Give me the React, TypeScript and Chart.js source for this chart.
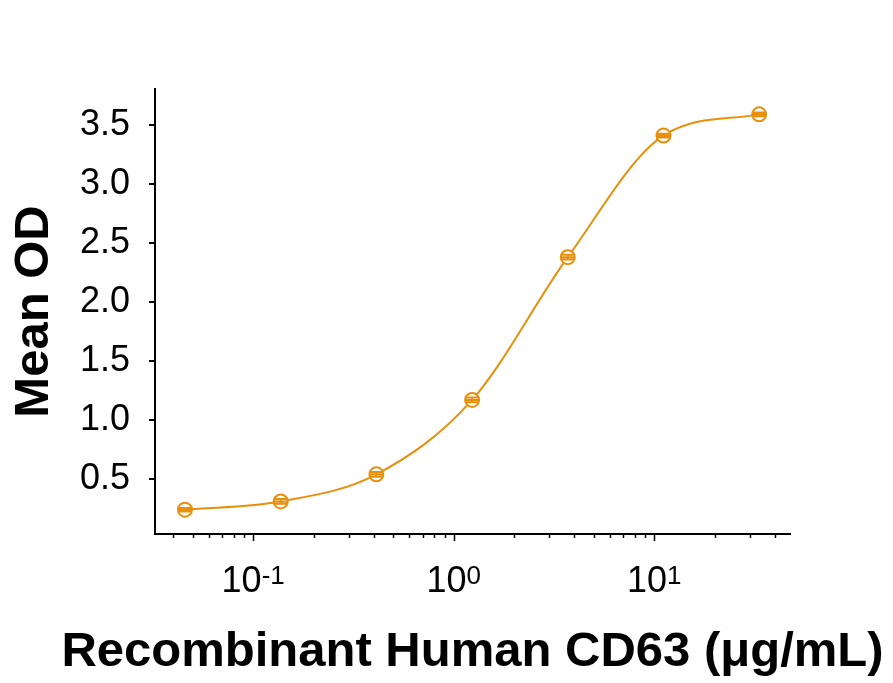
import { useEffect, useRef } from 'react';
import { Chart, registerables } from 'chart.js';

Chart.register(...registerables);

// Three-fold dilution series of recombinant human CD63 (µg/mL)
const concentrations = [0.0457, 0.1372, 0.4115, 1.235, 3.704, 11.11, 33.33];
// Mean optical density at each concentration
const meanOD = [0.24, 0.31, 0.54, 1.17, 2.38, 3.41, 3.59];
// Standard deviation of the replicates
const sdOD = [0.015, 0.02, 0.02, 0.02, 0.02, 0.015, 0.015];

const yTicks = [0.5, 1.0, 1.5, 2.0, 2.5, 3.0, 3.5];
const xDecades = [-1, 0, 1];
const xRange = [0.0324, 47.5];
const yRange = [0.034, 3.805];

const xTitle = 'Recombinant Human CD63 (μg/mL)';
const yTitle = 'Mean OD';

const ORANGE = '#E8900C';
const FONT = '"Liberation Sans", Arial, sans-serif';

// Vertical error bars with caps, drawn on top of the markers
const errorBarPlugin = {
  id: 'errorBars',
  afterDatasetsDraw(chart: any) {
    const { ctx, scales } = chart;
    const x = scales.x;
    const y = scales.y;
    ctx.save();
    ctx.strokeStyle = ORANGE;
    ctx.lineWidth = 2;
    concentrations.forEach((c, i) => {
      const px = x.getPixelForValue(c);
      const top = y.getPixelForValue(meanOD[i] + sdOD[i]);
      const bot = y.getPixelForValue(meanOD[i] - sdOD[i]);
      const mid = y.getPixelForValue(meanOD[i]);
      ctx.beginPath();
      ctx.moveTo(px, top);
      ctx.lineTo(px, bot);
      ctx.moveTo(px - 7, top);
      ctx.lineTo(px + 7, top);
      ctx.moveTo(px - 7, bot);
      ctx.lineTo(px + 7, bot);
      ctx.moveTo(px - 7, mid);
      ctx.lineTo(px + 7, mid);
      ctx.stroke();
    });
    ctx.restore();
  },
};

// Log-axis tick marks (long at decades, short in between), 10^n labels and the x title
const logAxisPlugin = {
  id: 'logAxis',
  afterDraw(chart: any) {
    const { ctx, scales, chartArea } = chart;
    const x = scales.x;
    const base = x.top;
    ctx.save();
    ctx.strokeStyle = '#000';
    ctx.lineWidth = 1.5;
    for (let e = -2; e <= 1; e++) {
      for (let m = 1; m <= 9; m++) {
        const v = m * Math.pow(10, e);
        if (v < xRange[0] || v > xRange[1]) continue;
        const px = Math.round(x.getPixelForValue(v)) + 0.5;
        const len = m === 1 ? 7 : 4;
        ctx.beginPath();
        ctx.moveTo(px, base);
        ctx.lineTo(px, base + len);
        ctx.stroke();
      }
    }
    ctx.fillStyle = '#000';
    ctx.textBaseline = 'alphabetic';
    ctx.textAlign = 'left';
    xDecades.forEach((e) => {
      const px = x.getPixelForValue(Math.pow(10, e));
      const baseText = '10';
      const supText = e < 0 ? '-' + Math.abs(e) : String(e);
      ctx.font = `36px ${FONT}`;
      const w1 = ctx.measureText(baseText).width;
      ctx.font = `26px ${FONT}`;
      const w2 = ctx.measureText(supText).width;
      const start = px - (w1 + w2) / 2;
      ctx.font = `36px ${FONT}`;
      ctx.fillText(baseText, start, base + 58);
      ctx.font = `26px ${FONT}`;
      ctx.fillText(supText, start + w1, base + 50);
    });
    ctx.font = `bold 49px ${FONT}`;
    ctx.textAlign = 'center';
    ctx.fillText(xTitle, (chartArea.left + chartArea.right) / 2, base + 132);
    ctx.restore();
  },
};

export default function App() {
  const canvasRef = useRef<HTMLCanvasElement | null>(null);

  useEffect(() => {
    if (!canvasRef.current) return;
    const chart = new Chart(canvasRef.current, {
      type: 'line',
      data: {
        datasets: [
          {
            data: concentrations.map((c, i) => ({ x: c, y: meanOD[i] })),
            borderColor: ORANGE,
            borderWidth: 2,
            cubicInterpolationMode: 'monotone',
            pointStyle: 'circle',
            pointRadius: 7,
            pointBorderWidth: 2,
            pointBorderColor: ORANGE,
            pointBackgroundColor: '#fff',
          },
        ],
      },
      options: {
        animation: false,
        responsive: true,
        maintainAspectRatio: false,
        layout: { padding: { left: 0, top: 89, right: 103, bottom: 0 } },
        plugins: { legend: { display: false }, tooltip: { enabled: false } },
        scales: {
          x: {
            type: 'logarithmic',
            min: xRange[0],
            max: xRange[1],
            ticks: { display: false },
            grid: { display: true, drawOnChartArea: false, drawTicks: false, color: '#000' },
            border: { display: true, color: '#000', width: 2 },
            afterFit(scale: any) {
              scale.height = 149;
            },
          },
          y: {
            type: 'linear',
            min: yRange[0],
            max: yRange[1],
            afterBuildTicks(scale: any) {
              scale.ticks = yTicks.map((v) => ({ value: v }));
            },
            ticks: {
              color: '#000',
              padding: 19,
              font: { family: FONT, size: 36 },
              callback: (v: any) => Number(v).toFixed(1),
            },
            grid: {
              display: true,
              drawOnChartArea: false,
              drawTicks: true,
              tickLength: 6,
              color: '#000',
              lineWidth: 2,
            },
            border: { display: true, color: '#000', width: 2 },
            title: {
              display: true,
              text: yTitle,
              color: '#000',
              font: { family: FONT, size: 49, weight: 'bold', lineHeight: 1 },
              padding: { top: 10, bottom: 0 },
            },
            afterFit(scale: any) {
              scale.width = 155;
            },
          },
        },
      },
      plugins: [errorBarPlugin, logAxisPlugin],
    });
    return () => chart.destroy();
  }, []);

  return (
    <div style={{ position: 'fixed', left: 0, top: 0, width: 893, height: 683, background: '#fff' }}>
      <canvas ref={canvasRef} />
    </div>
  );
}
